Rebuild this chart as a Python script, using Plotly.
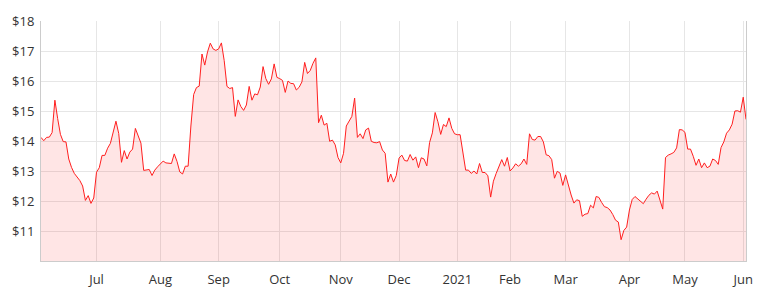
import pandas as pd
import plotly.graph_objects as go

# Daily closing prices (ASX trading days), grouped by month
jun20 = [14.12, 14.01, 14.12, 14.13, 14.28, 15.36, 14.75, 14.22, 13.98, 13.97, 13.40, 13.12, 12.92, 12.80, 12.68, 12.50, 12.02, 12.18, 11.92, 12.10]
jul20 = [12.96, 13.11, 13.52, 13.52, 13.76, 13.92, 14.32, 14.66, 14.25, 13.29, 13.68, 13.40, 13.63, 13.73, 14.42, 14.17, 13.93, 13.02, 13.04, 13.05, 12.85, 13.03, 13.14]
aug20 = [13.22, 13.33, 13.27, 13.25, 13.25, 13.57, 13.32, 12.97, 12.90, 13.16, 13.16, 14.50, 15.55, 15.78, 15.83, 16.90, 16.53, 16.97, 17.26, 17.07, 17.02]
sep20 = [17.07, 17.27, 16.68, 15.82, 15.75, 15.78, 14.82, 15.37, 15.15, 15.02, 15.20, 15.82, 15.36, 15.57, 15.54, 15.80, 16.48, 16.08, 15.89, 16.07, 16.57, 16.12]
oct20 = [16.08, 16.02, 15.62, 16.00, 15.92, 15.91, 15.70, 15.79, 15.97, 16.62, 16.25, 16.35, 16.59, 16.77, 14.61, 14.86, 14.53, 14.59, 13.99, 14.03, 13.87, 13.45]
nov20 = [13.27, 13.59, 14.50, 14.66, 14.82, 15.43, 14.12, 14.24, 14.08, 14.37, 14.43, 13.99, 13.95, 13.94, 13.98, 13.70, 13.59, 12.63, 12.90, 12.63, 12.85]
dec20 = [13.43, 13.53, 13.35, 13.33, 13.55, 13.36, 13.47, 13.11, 13.44, 13.40, 13.17, 13.95, 14.27, 14.95, 14.64, 14.22, 14.55, 14.48, 14.77, 14.42, 14.24]
jan21 = [14.21, 14.21, 13.60, 13.03, 13.03, 12.92, 13.00, 12.90, 13.25, 12.95, 12.95, 12.84, 12.13, 12.66, 12.92, 13.13, 13.38, 13.16, 13.45]
feb21 = [13.00, 13.10, 13.24, 13.16, 13.24, 13.40, 13.22, 14.24, 14.05, 14.03, 14.15, 14.15, 13.97, 13.54, 13.51, 13.38, 12.76, 12.99, 12.93, 12.52]
mar21 = [12.87, 12.52, 12.20, 11.93, 12.04, 12.01, 11.49, 11.56, 11.58, 11.86, 11.77, 12.15, 12.12, 11.95, 11.81, 11.78, 11.70, 11.55, 11.36, 11.30, 10.71, 11.02, 11.13]
apr21 = [11.70, 12.05, 12.15, 12.08, 12.01, 11.91, 12.06, 12.19, 12.27, 12.23, 12.33, 12.05, 11.73, 13.45, 13.53, 13.57, 13.62, 13.77, 14.38, 14.37]
may21 = [14.29, 13.73, 13.73, 13.49, 13.19, 13.40, 13.11, 13.27, 13.11, 13.16, 13.40, 13.35, 13.22, 13.78, 13.97, 14.26, 14.37, 14.56, 15.00, 15.01, 14.96]
jun21 = [15.46, 14.72]

prices = jun20 + jul20 + aug20 + sep20 + oct20 + nov20 + dec20 + jan21 + feb21 + mar21 + apr21 + may21 + jun21

start_date = "2020-06-02"
end_date = "2021-06-02"
market_holidays = ["2020-06-08", "2020-12-25", "2020-12-28", "2021-01-01",
                   "2021-01-26", "2021-04-02", "2021-04-05"]

days = pd.bdate_range(start_date, end_date)
days = days[~days.isin(pd.to_datetime(market_holidays))]
dates = [d.strftime("%Y-%m-%d") for d in days]
n = min(len(dates), len(prices))
dates = dates[:n]
prices = prices[:n]

# month tick labels at first trading day of each month
tick_labels = ["Jul", "Aug", "Sep", "Oct", "Nov", "Dec", "2021", "Feb", "Mar", "Apr", "May", "Jun"]
tick_months = ["2020-07", "2020-08", "2020-09", "2020-10", "2020-11", "2020-12",
               "2021-01", "2021-02", "2021-03", "2021-04", "2021-05", "2021-06"]
tickvals = []
for m in tick_months:
    tickvals.append(next(d for d in dates if d.startswith(m)))

y_ticks = [11, 12, 13, 14, 15, 16, 17, 18]
y_labels = ["$11", "$12", "$13", "$14", "$15", "$16", "$17", "$18"]

fig = go.Figure()
fig.add_trace(go.Scatter(
    x=dates, y=prices, mode="lines",
    line=dict(color="#ff1f1f", width=1),
    fill="tozeroy", fillcolor="rgba(255,0,0,0.1)",
    hoverinfo="skip",
))

font_family = "Open Sans, Lato, sans-serif"
fig.update_layout(
    width=765, height=300,
    margin=dict(l=39, r=13, t=16, b=35),
    paper_bgcolor="white", plot_bgcolor="white",
    showlegend=False,
    font=dict(family=font_family, size=13, color="#333333"),
)
fig.update_xaxes(
    type="category", range=[0, n - 1],
    tickmode="array", tickvals=tickvals, ticktext=tick_labels,
    showgrid=True, gridcolor="#e6e6e6", gridwidth=1,
    showline=True, linecolor="#cccccc", linewidth=1,
    ticks="outside", ticklen=6, tickcolor="rgba(0,0,0,0)",
    tickfont=dict(size=13, color="#333333"),
)
fig.update_yaxes(
    range=[10, 18], tickmode="array", tickvals=y_ticks, ticktext=y_labels,
    showgrid=True, gridcolor="#e6e6e6", gridwidth=1,
    showline=True, linecolor="#cccccc", linewidth=1, mirror=True,
    zeroline=False,
    ticks="outside", ticklen=3, tickcolor="rgba(0,0,0,0)",
    tickfont=dict(size=13, color="#333333"),
)

fig.write_html("out.html")
